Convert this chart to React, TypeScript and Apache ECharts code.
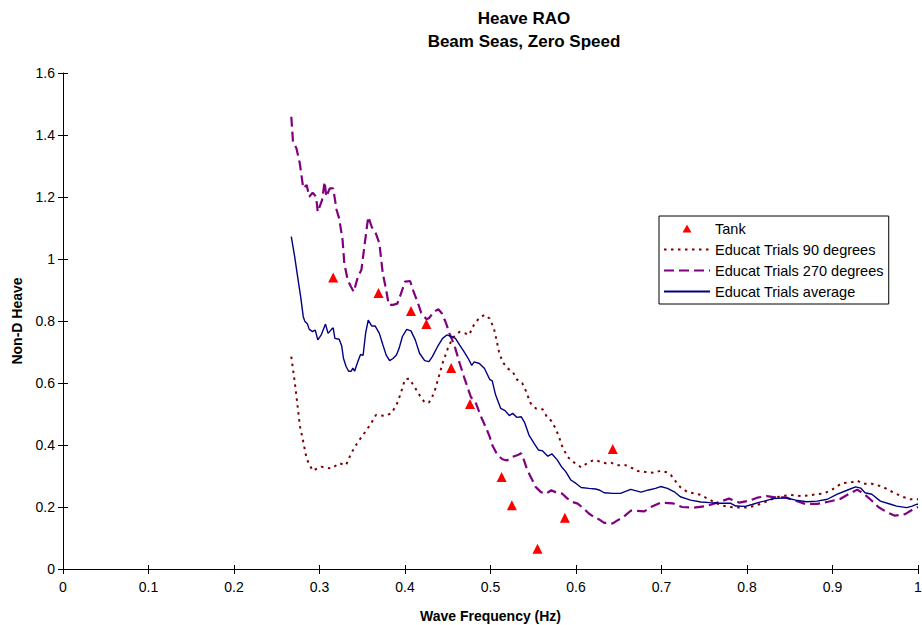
import React, { useEffect, useRef } from "react";
import * as echarts from "echarts";

const titleLines = ["Heave RAO", "Beam Seas, Zero Speed"];
const xAxisName = "Wave Frequency (Hz)";
const yAxisName = "Non-D Heave";
const seriesNames = ["Tank", "Educat Trials 90 degrees", "Educat Trials 270 degrees", "Educat Trials average"];

const tankFreq = [0.316, 0.369, 0.407, 0.425, 0.454, 0.476, 0.513, 0.525, 0.555, 0.587, 0.643];
const tankRao = [0.94, 0.89, 0.832, 0.79, 0.648, 0.532, 0.297, 0.206, 0.065, 0.165, 0.387];

const deg90 = [
  [0.267, 0.685], [0.271, 0.604], [0.273, 0.559], [0.277, 0.462], [0.28, 0.424], [0.285, 0.355],
  [0.292, 0.317], [0.302, 0.33], [0.314, 0.324], [0.323, 0.341], [0.331, 0.335], [0.337, 0.373],
  [0.345, 0.41], [0.355, 0.448], [0.36, 0.468], [0.366, 0.497], [0.376, 0.494], [0.384, 0.502],
  [0.39, 0.529], [0.395, 0.566], [0.4, 0.612], [0.405, 0.614], [0.411, 0.588], [0.417, 0.561],
  [0.423, 0.537], [0.428, 0.537], [0.434, 0.567], [0.439, 0.615], [0.444, 0.664], [0.45, 0.711],
  [0.456, 0.747], [0.464, 0.765], [0.469, 0.762], [0.475, 0.755], [0.481, 0.79], [0.487, 0.81],
  [0.493, 0.82], [0.499, 0.808], [0.504, 0.776], [0.507, 0.739], [0.51, 0.7], [0.514, 0.668],
  [0.52, 0.647], [0.526, 0.636], [0.531, 0.611], [0.537, 0.6], [0.541, 0.577], [0.547, 0.534],
  [0.553, 0.518], [0.561, 0.515], [0.566, 0.491], [0.571, 0.478], [0.576, 0.454], [0.58, 0.427],
  [0.584, 0.395], [0.59, 0.362], [0.598, 0.343], [0.606, 0.328], [0.613, 0.341], [0.621, 0.352],
  [0.629, 0.346], [0.635, 0.341], [0.641, 0.343], [0.648, 0.335], [0.658, 0.335], [0.666, 0.325],
  [0.672, 0.316], [0.681, 0.313], [0.691, 0.31], [0.699, 0.317], [0.705, 0.313], [0.711, 0.303],
  [0.717, 0.281], [0.722, 0.264], [0.73, 0.249], [0.738, 0.244], [0.746, 0.239], [0.753, 0.228],
  [0.761, 0.217], [0.769, 0.206], [0.777, 0.201], [0.788, 0.198], [0.8, 0.198], [0.808, 0.203],
  [0.818, 0.212], [0.827, 0.223], [0.839, 0.235], [0.851, 0.239], [0.864, 0.235], [0.876, 0.239],
  [0.89, 0.244], [0.899, 0.255], [0.911, 0.277], [0.921, 0.279], [0.929, 0.285], [0.936, 0.275],
  [0.946, 0.275], [0.958, 0.266], [0.969, 0.25], [0.981, 0.234], [0.991, 0.225], [1.0, 0.225],
];

const deg270 = [
  [0.267, 1.459], [0.269, 1.378], [0.273, 1.357], [0.277, 1.308], [0.281, 1.228], [0.285, 1.239],
  [0.288, 1.201], [0.292, 1.214], [0.296, 1.201], [0.298, 1.152], [0.303, 1.19], [0.306, 1.249],
  [0.308, 1.201], [0.312, 1.228], [0.316, 1.228], [0.32, 1.158], [0.323, 1.131], [0.327, 1.061],
  [0.329, 0.986], [0.333, 0.932], [0.337, 0.91], [0.34, 0.894], [0.345, 0.943], [0.349, 0.965],
  [0.353, 1.051], [0.357, 1.136], [0.361, 1.104], [0.366, 1.082], [0.37, 1.051], [0.374, 0.954],
  [0.378, 0.9], [0.381, 0.852], [0.386, 0.852], [0.391, 0.856], [0.395, 0.886], [0.4, 0.927],
  [0.406, 0.929], [0.409, 0.902], [0.415, 0.859], [0.419, 0.826], [0.425, 0.806], [0.428, 0.809],
  [0.434, 0.83], [0.439, 0.838], [0.443, 0.825], [0.448, 0.793], [0.452, 0.76], [0.458, 0.72],
  [0.464, 0.663], [0.469, 0.62], [0.473, 0.587], [0.477, 0.555], [0.483, 0.534], [0.489, 0.491],
  [0.495, 0.454], [0.499, 0.427], [0.502, 0.4], [0.508, 0.368], [0.514, 0.354], [0.519, 0.35],
  [0.526, 0.362], [0.532, 0.368], [0.536, 0.373], [0.539, 0.352], [0.543, 0.319], [0.549, 0.286],
  [0.553, 0.264], [0.559, 0.248], [0.565, 0.243], [0.571, 0.254], [0.576, 0.248], [0.584, 0.243],
  [0.59, 0.227], [0.596, 0.216], [0.602, 0.211], [0.609, 0.195], [0.615, 0.179], [0.621, 0.168],
  [0.627, 0.16], [0.633, 0.149], [0.643, 0.147], [0.648, 0.156], [0.656, 0.169], [0.664, 0.188],
  [0.67, 0.188], [0.68, 0.186], [0.687, 0.199], [0.699, 0.214], [0.713, 0.212], [0.724, 0.2],
  [0.738, 0.198], [0.752, 0.203], [0.765, 0.214], [0.779, 0.227], [0.791, 0.214], [0.802, 0.22],
  [0.812, 0.23], [0.823, 0.235], [0.833, 0.231], [0.845, 0.231], [0.857, 0.22], [0.868, 0.21],
  [0.882, 0.21], [0.895, 0.217], [0.909, 0.226], [0.919, 0.242], [0.929, 0.256], [0.937, 0.242],
  [0.946, 0.22], [0.954, 0.199], [0.964, 0.183], [0.973, 0.172], [0.985, 0.177], [0.995, 0.194],
  [1.0, 0.2],
];

const average = [
  [0.267, 1.072], [0.271, 1.007], [0.275, 0.932], [0.278, 0.878], [0.281, 0.814], [0.283, 0.798],
  [0.286, 0.79], [0.288, 0.773], [0.292, 0.766], [0.295, 0.771], [0.298, 0.739], [0.302, 0.755],
  [0.307, 0.79], [0.31, 0.76], [0.314, 0.773], [0.316, 0.778], [0.318, 0.744], [0.323, 0.741],
  [0.326, 0.719], [0.328, 0.68], [0.331, 0.654], [0.334, 0.638], [0.337, 0.638], [0.339, 0.648],
  [0.341, 0.638], [0.345, 0.67], [0.348, 0.692], [0.351, 0.689], [0.354, 0.762], [0.357, 0.803],
  [0.361, 0.784], [0.365, 0.784], [0.37, 0.76], [0.374, 0.724], [0.378, 0.69], [0.382, 0.672],
  [0.386, 0.679], [0.39, 0.69], [0.393, 0.711], [0.397, 0.75], [0.402, 0.773], [0.407, 0.768],
  [0.412, 0.739], [0.417, 0.696], [0.423, 0.672], [0.428, 0.669], [0.432, 0.685], [0.438, 0.717],
  [0.444, 0.744], [0.449, 0.755], [0.454, 0.75], [0.459, 0.744], [0.464, 0.722], [0.469, 0.701],
  [0.474, 0.679], [0.478, 0.657], [0.481, 0.668], [0.487, 0.663], [0.493, 0.647], [0.499, 0.612],
  [0.502, 0.607], [0.506, 0.561], [0.512, 0.518], [0.517, 0.511], [0.522, 0.495], [0.526, 0.502],
  [0.531, 0.489], [0.536, 0.491], [0.54, 0.472], [0.545, 0.432], [0.551, 0.405], [0.556, 0.384],
  [0.561, 0.381], [0.567, 0.364], [0.572, 0.371], [0.578, 0.352], [0.583, 0.33], [0.588, 0.314],
  [0.594, 0.287], [0.6, 0.276], [0.606, 0.263], [0.615, 0.26], [0.623, 0.258], [0.627, 0.255],
  [0.633, 0.246], [0.643, 0.244], [0.652, 0.244], [0.664, 0.257], [0.676, 0.248], [0.685, 0.255],
  [0.693, 0.26], [0.699, 0.266], [0.707, 0.26], [0.715, 0.249], [0.722, 0.233], [0.734, 0.222],
  [0.746, 0.216], [0.757, 0.214], [0.769, 0.212], [0.781, 0.212], [0.787, 0.203], [0.798, 0.202],
  [0.806, 0.208], [0.814, 0.215], [0.82, 0.219], [0.831, 0.227], [0.845, 0.23], [0.857, 0.222],
  [0.87, 0.217], [0.882, 0.219], [0.894, 0.225], [0.905, 0.241], [0.917, 0.254], [0.927, 0.265],
  [0.933, 0.261], [0.938, 0.246], [0.946, 0.241], [0.956, 0.219], [0.968, 0.209], [0.975, 0.203],
  [0.987, 0.198], [0.993, 0.203], [0.999, 0.209], [1.0, 0.209],
];

const FONT = "'Liberation Sans', Arial, sans-serif";

export default function App() {
  const ref = useRef<HTMLDivElement>(null);
  useEffect(() => {
    if (!ref.current) return;
    const chart = echarts.init(ref.current, null, { renderer: "svg" });
    const tankData = tankFreq.map((f, i) => [f, tankRao[i]]);
    const baseX = { type: "value", min: 0, max: 1, interval: 0.1, splitLine: { show: false } };
    const baseY = { type: "value", min: 0, max: 1.6, interval: 0.2, splitLine: { show: false } };
    chart.setOption({
      animation: false,
      backgroundColor: "#fff",
      textStyle: { fontFamily: FONT },
      title: {
        text: titleLines.join("\n"),
        left: 524,
        top: 7,
        padding: 0,
        textAlign: "center",
        textStyle: { fontFamily: FONT, fontSize: 17, fontWeight: "bold", color: "#000", lineHeight: 23 },
      },
      legend: {
        orient: "vertical",
        left: 659,
        top: 216,
        padding: [5, 5, 5, 4],
        itemWidth: 46,
        itemHeight: 8,
        itemGap: 6,
        symbolKeepAspect: true,
        backgroundColor: "#fff",
        borderColor: "#000",
        borderWidth: 1,
        textStyle: { fontFamily: FONT, fontSize: 14.5, color: "#000", lineHeight: 15 },
        data: [
          { name: seriesNames[0], icon: "path://M5,0 L10,9 L0,9 Z" },
          { name: seriesNames[1], itemStyle: { opacity: 0 } },
          { name: seriesNames[2], itemStyle: { opacity: 0 } },
          { name: seriesNames[3], itemStyle: { opacity: 0 } },
        ],
      },
      grid: { left: 63, right: 4, top: 73, bottom: 56, containLabel: false, outerBoundsMode: "none" },
      xAxis: [
        {
          ...baseX,
          name: xAxisName,
          nameLocation: "middle",
          nameGap: 40,
          nameTextStyle: { fontFamily: FONT, fontSize: 14, fontWeight: "bold", color: "#000" },
          axisLine: { lineStyle: { color: "#000", width: 1 } },
          axisTick: { inside: false, length: 5, lineStyle: { color: "#000" } },
          axisLabel: { color: "#000", fontSize: 14, fontFamily: FONT, margin: 11, showMaxLabel: true, showMinLabel: true },
        },
        {
          ...baseX,
          position: "bottom",
          axisLine: { show: false },
          axisTick: { inside: true, length: 4, lineStyle: { color: "#000" } },
          axisLabel: { show: false },
        },
      ],
      yAxis: [
        {
          ...baseY,
          name: yAxisName,
          nameLocation: "middle",
          nameGap: 39,
          nameRotate: 90,
          nameTextStyle: { fontFamily: FONT, fontSize: 14, fontWeight: "bold", color: "#000" },
          axisLine: { show: true, lineStyle: { color: "#000", width: 1 } },
          axisTick: { show: true, inside: false, length: 5, lineStyle: { color: "#000" } },
          axisLabel: { color: "#000", fontSize: 14, fontFamily: FONT, margin: 8 },
        },
        {
          ...baseY,
          position: "left",
          axisLine: { show: false },
          axisTick: { show: true, inside: true, length: 5, lineStyle: { color: "#000" } },
          axisLabel: { show: false },
        },
      ],
      series: [
        {
          name: seriesNames[0],
          type: "scatter",
          symbol: "triangle",
          symbolSize: 10,
          itemStyle: { color: "#ff0000", opacity: 1 },
          data: tankData,
          z: 5,
        },
        {
          name: seriesNames[1],
          type: "line",
          symbol: "none",
          showSymbol: false,
          lineStyle: { color: "#800000", width: 2, type: [2.5, 4.5] },
          itemStyle: { color: "#800000" },
          data: deg90,
        },
        {
          name: seriesNames[2],
          type: "line",
          symbol: "none",
          showSymbol: false,
          lineStyle: { color: "#800080", width: 2.2, type: [10, 5] },
          itemStyle: { color: "#800080" },
          data: deg270,
        },
        {
          name: seriesNames[3],
          type: "line",
          symbol: "none",
          showSymbol: false,
          lineStyle: { color: "#000080", width: 1.4 },
          itemStyle: { color: "#000080" },
          data: average,
        },
      ],
    });
    return () => chart.dispose();
  }, []);
  return (
    <div
      ref={ref}
      style={{ position: "fixed", left: 0, top: 0, width: 922, height: 625, background: "#fff" }}
    />
  );
}
